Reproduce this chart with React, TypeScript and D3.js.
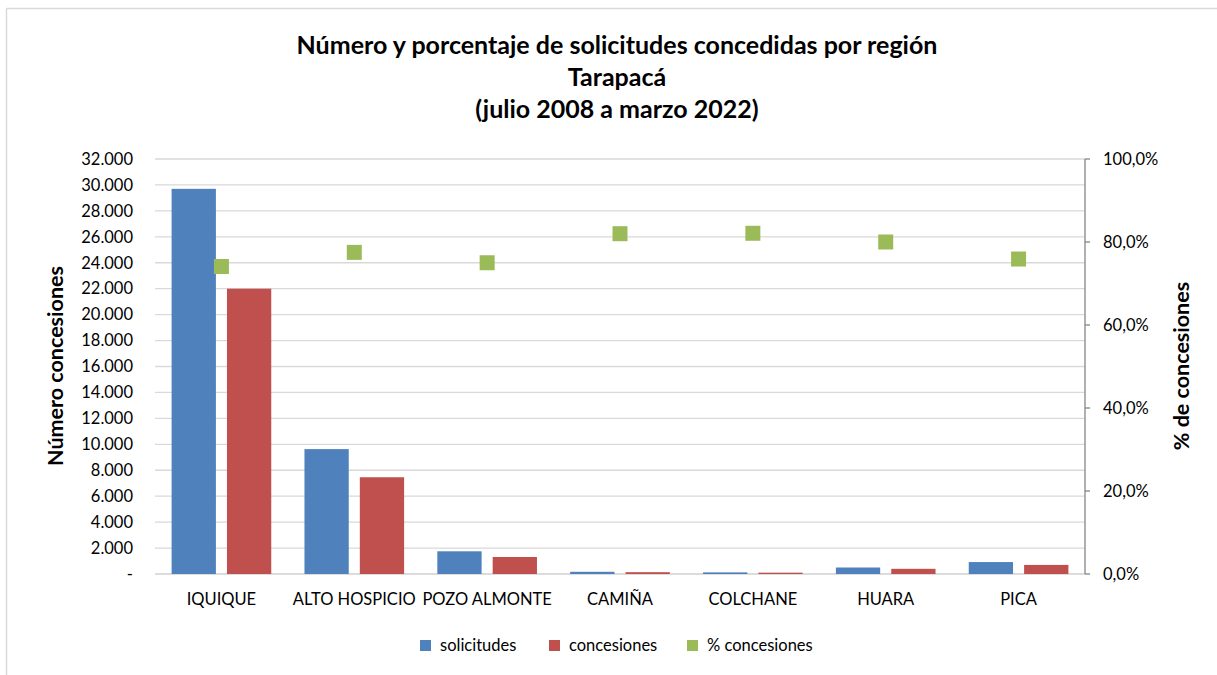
import React from 'react';
import * as d3 from 'd3';

const categories = ['IQUIQUE', 'ALTO HOSPICIO', 'POZO ALMONTE', 'CAMIÑA', 'COLCHANE', 'HUARA', 'PICA'];
const solicitudes = [29700, 9630, 1750, 170, 125, 500, 920];
const concesiones = [22000, 7460, 1310, 140, 103, 400, 700];
const porcentaje = [74.1, 77.5, 75.0, 82.0, 82.1, 80.0, 75.9];
const leftTicks = d3.range(0, 32001, 2000);
const rightTicks = [0, 20, 40, 60, 80, 100];
const titleLines = [
  'Número y porcentaje de solicitudes concedidas por región',
  'Tarapacá',
  '(julio 2008 a marzo 2022)',
];
const seriesNames = ['solicitudes', 'concesiones', '% concesiones'];
const colors = ['#4F81BD', '#C0504D', '#9BBB59'];

const W = 1217;
const H = 675;
const FONT = 'Lato, sans-serif';

const locale = d3.formatLocale({ decimal: ',', thousands: '.', grouping: [3], currency: ['', ''] });
const fmtLeft = (v: number) => (v === 0 ? '-' : locale.format(',.0f')(v));
const fmtRight = (v: number) => locale.format('.1f')(v) + '%';

export default function App() {
  const plot = { left: 155, right: 1085, top: 159, bottom: 574 };
  const x = d3.scaleBand<string>().domain(categories).range([plot.left, plot.right]).padding(0);
  const inner = d3
    .scaleBand<string>()
    .domain(['s', 'c'])
    .range([0, x.bandwidth()])
    .paddingInner(0.2)
    .paddingOuter(0.3);
  const yL = d3.scaleLinear().domain([0, 32000]).range([plot.bottom, plot.top]);
  const yR = d3.scaleLinear().domain([0, 100]).range([plot.bottom, plot.top]);
  const mk = 15;
  const fs = 16.5;

  return (
    <svg
      width={W}
      height={H}
      viewBox={`0 0 ${W} ${H}`}
      style={{ position: 'absolute', left: 0, top: 0, background: '#fff', fontFamily: FONT }}
    >
      <rect x={0} y={0} width={W} height={H} fill="#fff" />
      {/* chart frame */}
      <line x1={6.5} y1={8.5} x2={W} y2={8.5} stroke="#d9d9d9" strokeWidth={1.5} />
      <line x1={6.5} y1={8.5} x2={6.5} y2={H} stroke="#d9d9d9" strokeWidth={1.5} />

      {/* title */}
      {titleLines.map((t, i) => (
        <text key={i} x={617} y={54 + i * 32} textAnchor="middle" fontWeight="bold" fontSize={25} fill="#000">
          {t}
        </text>
      ))}

      {/* gridlines */}
      {leftTicks.map((t) => (
        <line key={t} x1={plot.left} x2={plot.right} y1={yL(t)} y2={yL(t)} stroke={t === 0 ? '#d0d0d0' : '#d9d9d9'} strokeWidth={1.3} />
      ))}
      {/* left tick labels */}
      {leftTicks.map((t) => (
        <text key={t} x={133} y={yL(t)} dy="0.35em" textAnchor="end" fontSize={fs} fill="#000">
          {fmtLeft(t)}
        </text>
      ))}

      {/* bars */}
      {categories.map((c, i) => (
        <g key={c} transform={`translate(${x(c)},0)`}>
          <rect x={inner('s')} y={yL(solicitudes[i])} width={inner.bandwidth()} height={yL(0) - yL(solicitudes[i])} fill={colors[0]} />
          <rect x={inner('c')} y={yL(concesiones[i])} width={inner.bandwidth()} height={yL(0) - yL(concesiones[i])} fill={colors[1]} />
        </g>
      ))}

      {/* right axis */}
      <line x1={plot.right} x2={plot.right} y1={plot.top} y2={plot.bottom} stroke="#868686" strokeWidth={1.3} />
      {rightTicks.map((t) => (
        <g key={t}>
          <line x1={plot.right} x2={plot.right + 5} y1={yR(t)} y2={yR(t)} stroke="#868686" strokeWidth={1.3} />
          <text x={1103} y={yR(t)} dy="0.35em" fontSize={fs} fill="#000">
            {fmtRight(t)}
          </text>
        </g>
      ))}

      {/* percent markers */}
      {categories.map((c, i) => (
        <rect
          key={c}
          x={(x(c) as number) + x.bandwidth() / 2 - mk / 2}
          y={yR(porcentaje[i]) - mk / 2}
          width={mk}
          height={mk}
          fill={colors[2]}
        />
      ))}

      {/* category labels */}
      {categories.map((c) => (
        <text key={c} x={(x(c) as number) + x.bandwidth() / 2} y={605} textAnchor="middle" fontSize={fs} fill="#000">
          {c}
        </text>
      ))}

      {/* axis titles */}
      <text transform={`translate(63,366) rotate(-90)`} textAnchor="middle" fontWeight="bold" fontSize={21.5} fill="#000">
        Número concesiones
      </text>
      <text transform={`translate(1189,366) rotate(-90)`} textAnchor="middle" fontWeight="bold" fontSize={21.5} fill="#000">
        % de concesiones
      </text>

      {/* legend */}
      {seriesNames.map((n, i) => {
        const lx = [420, 549, 687][i];
        return (
          <g key={n}>
            <rect x={lx} y={640} width={11} height={11} fill={colors[i]} />
            <text x={lx + 20} y={645.5} dy="0.35em" fontSize={fs} fill="#000">
              {n}
            </text>
          </g>
        );
      })}
    </svg>
  );
}
